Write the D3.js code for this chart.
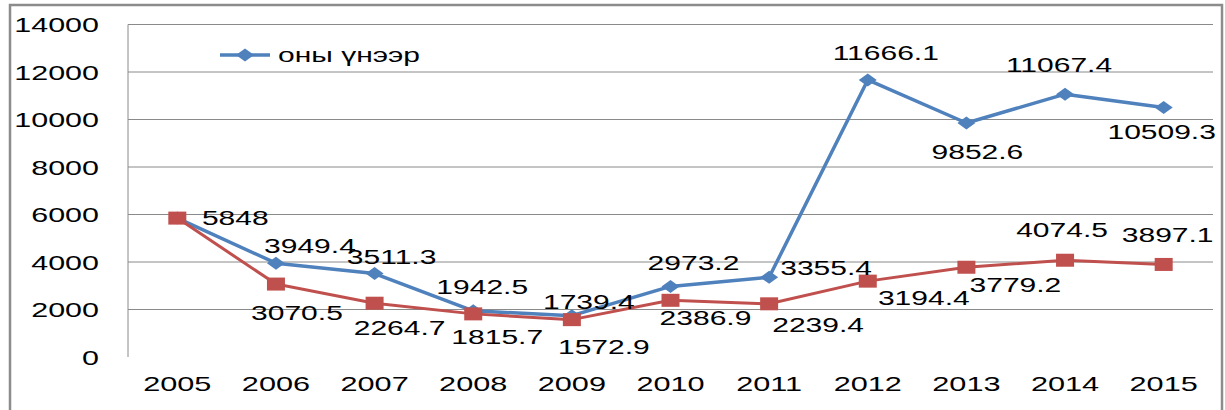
<!DOCTYPE html>
<html>
<head>
<meta charset="utf-8">
<script src="https://cdn.jsdelivr.net/npm/d3@7"></script>
<style>
  body { margin: 0; background: #fff; }
  text { font-family: "Liberation Sans", Arial, sans-serif; fill: #000; }
</style>
</head>
<body>
<div id="chart"></div>
<script>
// data
const years = ["2005", "2006", "2007", "2008", "2009", "2010", "2011", "2012", "2013", "2014", "2015"];
const blueValues = [5848, 3949.4, 3511.3, 1942.5, 1739.4, 2973.2, 3355.4, 11666.1, 9852.6, 11067.4, 10509.3];
const redValues = [5848, 3070.5, 2264.7, 1815.7, 1572.9, 2386.9, 2239.4, 3194.4, 3779.2, 4074.5, 3897.1];
const yTicks = [0, 2000, 4000, 6000, 8000, 10000, 12000, 14000];
const legendLabel = "оны үнээр";

// label placement (dx, dy from the marker), null = no label
const blueLabelPos = [[58, 0], [34, -17], [17, -17], [9, -24], [17, -14], [23, -23], [57, -9], [18, -27], [11, 29], [-6, -29], [-2, 25]];
const redLabelPos = [null, [21, 29], [25, 25], [24, 23], [32, 27], [35, 18], [49, 21], [56, 17], [49, 18], [-3, -30], [4, -29]];

const W = 1225, H = 410;
const plot = { left: 128, right: 1213, top: 24.5, bottom: 357 };
const stretch = 1.5; // glyphs in the picture are drawn wide

const blue = "#4F81BD", red = "#C0504D";

const svg = d3.select("#chart").append("svg")
  .attr("width", W)
  .attr("height", H);

// outer frame
svg.append("rect")
  .attr("x", 10).attr("y", 5)
  .attr("width", 1212).attr("height", 420)
  .attr("fill", "none")
  .attr("stroke", "#8c8c8c")
  .attr("stroke-width", 2.5);

const x = d3.scaleBand().domain(years).range([plot.left, plot.right]);
const y = d3.scaleLinear().domain([0, 14000]).range([plot.bottom, plot.top]);
const cx = d => x(d) + x.bandwidth() / 2;

function wide(sel, k) {
  sel.each(function () {
    const len = this.getComputedTextLength();
    d3.select(this).attr("textLength", len * k).attr("lengthAdjust", "spacingAndGlyphs");
  });
}

// gridlines
svg.append("g").selectAll("line")
  .data(yTicks.filter(t => t > 0))
  .join("line")
  .attr("x1", plot.left).attr("x2", plot.right)
  .attr("y1", d => y(d)).attr("y2", d => y(d))
  .attr("stroke", "#8a8a8a")
  .attr("stroke-width", 1);

// y axis line
svg.append("line")
  .attr("x1", plot.left).attr("x2", plot.left)
  .attr("y1", plot.top).attr("y2", plot.bottom)
  .attr("stroke", "#8a8a8a");

// y tick labels
svg.append("g").selectAll("text")
  .data(yTicks)
  .join("text")
  .attr("x", 99)
  .attr("y", d => y(d))
  .attr("text-anchor", "end")
  .attr("dominant-baseline", "central")
  .attr("font-size", 21)
  .text(d => d)
  .call(wide, 1.45);

// x tick labels
svg.append("g").selectAll("text")
  .data(years)
  .join("text")
  .attr("x", d => cx(d))
  .attr("y", 383)
  .attr("text-anchor", "middle")
  .attr("dominant-baseline", "central")
  .attr("font-size", 21)
  .text(d => d)
  .call(wide, 1.46);

const line = d3.line().x(d => cx(d.year)).y(d => y(d.v));
const blueData = years.map((yr, i) => ({ year: yr, v: blueValues[i], pos: blueLabelPos[i] }));
const redData = years.map((yr, i) => ({ year: yr, v: redValues[i], pos: redLabelPos[i] }));

// blue series
svg.append("path")
  .datum(blueData)
  .attr("d", line)
  .attr("fill", "none")
  .attr("stroke", blue)
  .attr("stroke-width", 3.5)
  .attr("stroke-linejoin", "round");

svg.append("g").selectAll("path")
  .data(blueData)
  .join("path")
  .attr("d", "M0,-6.5L9,0L0,6.5L-9,0Z")
  .attr("transform", d => "translate(" + cx(d.year) + "," + y(d.v) + ")")
  .attr("fill", blue);

// red series
svg.append("path")
  .datum(redData)
  .attr("d", line)
  .attr("fill", "none")
  .attr("stroke", red)
  .attr("stroke-width", 3)
  .attr("stroke-linejoin", "round");

svg.append("g").selectAll("rect")
  .data(redData)
  .join("rect")
  .attr("x", d => cx(d.year) - 9)
  .attr("y", d => y(d.v) - 6.5)
  .attr("width", 18)
  .attr("height", 13)
  .attr("fill", red);

// data labels
function labels(data) {
  svg.append("g").selectAll("text")
    .data(data.filter(d => d.pos))
    .join("text")
    .attr("x", d => cx(d.year) + d.pos[0])
    .attr("y", d => y(d.v) + d.pos[1])
    .attr("text-anchor", "middle")
    .attr("dominant-baseline", "central")
    .attr("font-size", 20)
    .text(d => d.v)
    .call(wide, stretch);
}
labels(blueData);
labels(redData);

// legend
const lg = svg.append("g").attr("transform", "translate(220,55)");
lg.append("line")
  .attr("x1", 0).attr("x2", 50)
  .attr("stroke", blue)
  .attr("stroke-width", 3.5);
lg.append("path")
  .attr("d", "M0,-6.5L9,0L0,6.5L-9,0Z")
  .attr("transform", "translate(25,0)")
  .attr("fill", blue);
lg.append("text")
  .attr("x", 58)
  .attr("y", 0)
  .attr("dominant-baseline", "central")
  .attr("font-size", 20)
  .text(legendLabel)
  .call(wide, stretch);
</script>
</body>
</html>
